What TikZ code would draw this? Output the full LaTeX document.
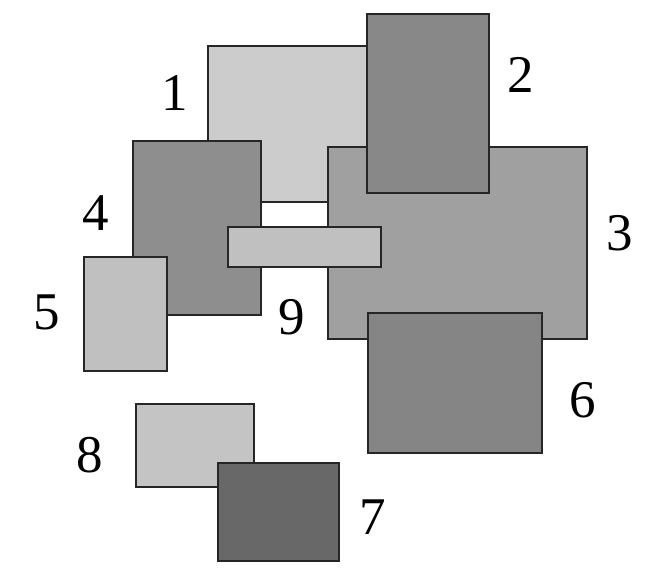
\documentclass[tikz,border=0pt]{standalone}
\usepackage{fontspec}
\setmainfont{Liberation Serif}
\usepackage{tikz}
\usetikzlibrary{positioning}
\tikzset{
box/.style={draw=black!85,line width=2.8pt},
num/.style={font=\fontsize{53}{57}\selectfont,inner sep=0pt},
}

\begin{document}
\begin{tikzpicture}[x=1pt,y=-1pt]
	\useasboundingbox (0,0) rectangle (661,583);
	% rectangles, bottom to top
	\draw[box,fill={rgb,255:red,204;green,204;blue,204}] (208,46) rectangle (400,202);
	\draw[box,fill={rgb,255:red,160;green,160;blue,160}] (328,147) rectangle (587,339);
	\draw[box,fill={rgb,255:red,136;green,136;blue,136}] (367,14) rectangle (489,193);
	\draw[box,fill={rgb,255:red,142;green,142;blue,142}] (133,141) rectangle (261,315);
	\draw[box,fill={rgb,255:red,192;green,192;blue,192}] (84,257) rectangle (167,371);
	\draw[box,fill={rgb,255:red,192;green,192;blue,192}] (228,227) rectangle (381,267);
	\draw[box,fill={rgb,255:red,133;green,133;blue,133}] (368,313) rectangle (542,453);
	\draw[box,fill={rgb,255:red,196;green,196;blue,196}] (136,404) rectangle (254,487);
	\draw[box,fill={rgb,255:red,104;green,104;blue,104}] (218,463) rectangle (339,561);

	% labels
	\node[num] (l1) at (175,93) {1};
	\node[num] (l2) at (521,75) {2};
	\node[num] (l3) at (620,233) {3};
	\node[num] (l4) at (96,213) {4};
	\node[num] (l5) at (47,312) {5};
	\node[num] (l6) at (583,400) {6};
	\node[num] (l7) at (373,517) {7};
	\node[num] (l8) at (90,455) {8};
	\node[num] (l9) at (292,317) {9};
\end{tikzpicture}
\end{document}
